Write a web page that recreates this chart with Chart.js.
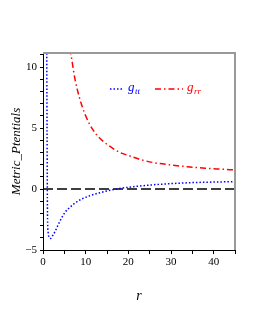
<!DOCTYPE html>
<html>
<head>
<meta charset="utf-8">
<script src="https://cdn.jsdelivr.net/npm/chart.js@4"></script>
<style>
  html, body { margin: 0; padding: 0; background: #fff; }
  #wrap { width: 255px; height: 330px; }
</style>
</head>
<body>
<div id="wrap"><canvas id="c" width="255" height="330"></canvas></div>
<script>
// values
const rTT = [0.85, 0.95, 1.05, 1.2, 1.5, 1.8, 2.2, 2.8, 3.6, 4.4, 5.2, 6, 7.5, 9.1, 11, 13.4, 15.8, 18.5, 22, 26, 30, 34, 40, 45];
const gTT = [14, 5, -2, -3.5, -4.0, -4.05, -3.85, -3.5, -2.9, -2.35, -1.9, -1.6, -1.15, -0.82, -0.55, -0.3, -0.1, 0.07, 0.22, 0.35, 0.44, 0.51, 0.57, 0.6];
const rRR = [6.2, 6.5, 7.5, 8.7, 10, 11.8, 13.5, 15.8, 18, 20, 23, 26, 30, 33.8, 38, 42, 45];
const gRR = [11.5, 11.1, 9, 7.3, 6.0, 4.8, 4.1, 3.47, 3.0, 2.75, 2.4, 2.16, 1.97, 1.83, 1.7, 1.62, 1.56];
const zeroR = [0, 45];
const zeroV = [0, 0];
const xTicks = [0, 5, 10, 15, 20, 25, 30, 35, 40, 45];
const yTicks = [-5, -4, -3, -2, -1, 0, 1, 2, 3, 4, 5, 6, 7, 8, 9, 10, 11];

const serif = "'Liberation Serif', 'DejaVu Serif', serif";
const pts = (xs, ys) => xs.map((x, i) => ({ x: x, y: ys[i] }));

// gray frame on top/right + legend with subscripts
const extras = {
  id: 'extras',
  afterDraw(chart) {
    const { ctx, chartArea: a } = chart;
    ctx.save();
    ctx.strokeStyle = '#999';
    ctx.lineWidth = 2;
    ctx.beginPath();
    ctx.moveTo(a.left, a.top);
    ctx.lineTo(a.right, a.top);
    ctx.lineTo(a.right, a.bottom);
    ctx.stroke();

    const y = 89;
    ctx.lineWidth = 1.5;
    ctx.setLineDash([1.5, 2]);
    ctx.strokeStyle = '#0000ff';
    ctx.beginPath(); ctx.moveTo(110, y); ctx.lineTo(123, y); ctx.stroke();
    ctx.setLineDash([6, 3, 1.5, 3]);
    ctx.strokeStyle = '#ff0000';
    ctx.beginPath(); ctx.moveTo(155, y); ctx.lineTo(183, y); ctx.stroke();
    ctx.setLineDash([]);

    ctx.textBaseline = 'alphabetic';
    ctx.fillStyle = '#0000ff';
    ctx.font = 'italic 13px ' + serif;
    ctx.fillText('g', 128, y + 2);
    ctx.font = 'italic 9px ' + serif;
    ctx.fillText('tt', 135, y + 5);
    ctx.fillStyle = '#ff0000';
    ctx.font = 'italic 13px ' + serif;
    ctx.fillText('g', 187, y + 2);
    ctx.font = 'italic 9px ' + serif;
    ctx.fillText('rr', 194, y + 5);
    ctx.restore();
  }
};

new Chart(document.getElementById('c'), {
  type: 'scatter',
  data: {
    datasets: [
      {
        label: 'g_tt',
        data: pts(rTT, gTT),
        showLine: true,
        borderColor: '#0000ff',
        borderWidth: 1.5,
        borderDash: [1.5, 2],
        pointRadius: 0,
        cubicInterpolationMode: 'monotone'
      },
      {
        label: 'g_rr',
        data: pts(rRR, gRR),
        showLine: true,
        borderColor: '#ff0000',
        borderWidth: 1.5,
        borderDash: [6, 3, 1.5, 3],
        pointRadius: 0,
        cubicInterpolationMode: 'monotone'
      },
      {
        label: 'zero',
        data: pts(zeroR, zeroV),
        showLine: true,
        borderColor: '#000',
        borderWidth: 1.5,
        borderDash: [10, 4],
        pointRadius: 0
      }
    ]
  },
  options: {
    responsive: false,
    animation: false,
    layout: { padding: { top: 53, right: 20, left: 0, bottom: 0 } },
    plugins: { legend: { display: false }, tooltip: { enabled: false } },
    scales: {
      x: {
        type: 'linear',
        min: 0,
        max: 45,
        afterFit(s) { s.height = 80; },
        afterBuildTicks(s) { s.ticks = xTicks.map(v => ({ value: v })); },
        grid: { drawOnChartArea: false, drawTicks: true, tickLength: 4, color: '#000' },
        border: { color: '#000', width: 1 },
        ticks: {
          maxRotation: 0,
          autoSkip: false,
          padding: 2,
          color: '#000',
          font: { family: serif, size: 11 },
          callback: v => (v % 10 === 0 ? String(v) : '')
        },
        title: {
          display: true,
          text: 'r',
          color: '#000',
          font: { family: serif, size: 14, style: 'italic' },
          padding: { top: 0, bottom: 25 }
        }
      },
      y: {
        type: 'linear',
        min: -5,
        max: 11.15,
        afterFit(s) { s.width = 43; },
        afterBuildTicks(s) { s.ticks = yTicks.map(v => ({ value: v })); },
        grid: { drawOnChartArea: false, drawTicks: true, tickLength: 3, color: '#000' },
        border: { color: '#000', width: 1 },
        ticks: {
          autoSkip: false,
          padding: 3,
          color: '#000',
          font: { family: serif, size: 11 },
          callback: v => (v % 5 === 0 ? String(v).replace('-', '\u2212') : '')
        },
        title: {
          display: true,
          text: 'Metric_Ptentials',
          color: '#000',
          font: { family: serif, size: 13, style: 'italic' },
          padding: { top: 9, bottom: 0 }
        }
      }
    }
  },
  plugins: [extras]
});
</script>
</body>
</html>
